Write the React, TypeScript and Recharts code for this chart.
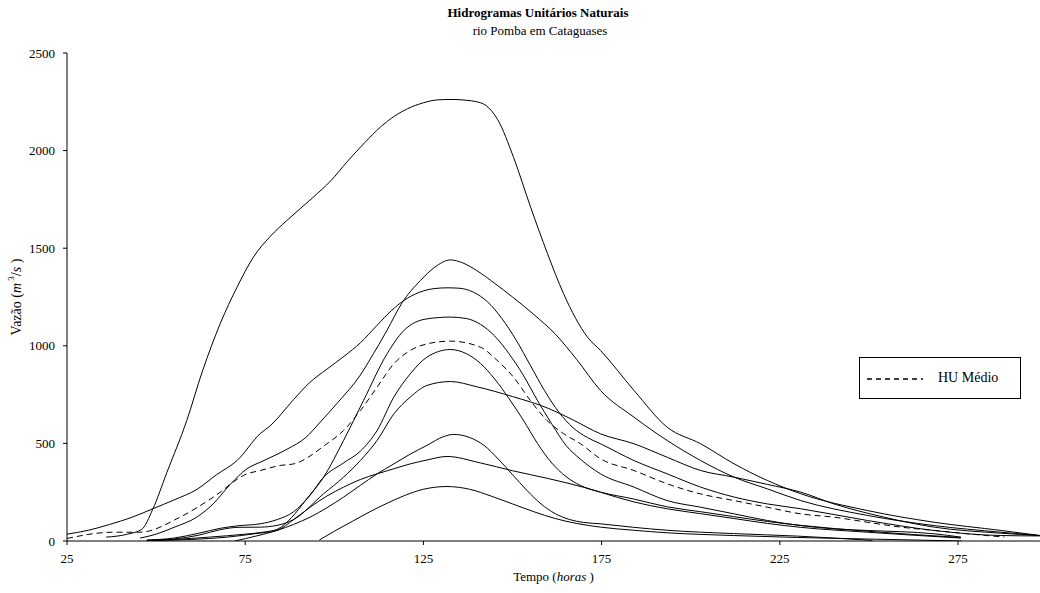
import React from 'react';
import { LineChart, Line, XAxis, YAxis, Label } from 'recharts';

// Time axis ticks (hours) and discharge ticks (m3/s)
const timeTicks = [25, 75, 125, 175, 225, 275];
const flowTicks = [0, 500, 1000, 1500, 2000, 2500];

// Each hydrograph: [time (h), discharge (m3/s)]
const huA: [number, number][] = [
  [36, 20], [42, 35], [46, 60], [49, 160], [53, 350], [58.6, 617], [63, 870], [68, 1114], [72.7, 1300],
  [77.3, 1454], [82, 1560], [86.7, 1642], [94, 1760], [99, 1845], [103.7, 1945], [108.5, 2040],
  [112.9, 2120], [117, 2178], [120.5, 2214], [125, 2245], [129, 2260], [133, 2262], [137, 2258],
  [140, 2250], [142.5, 2232], [145.8, 2160], [150.3, 1965], [155.1, 1709], [159.8, 1473],
  [164.3, 1268], [171.1, 1043], [174.7, 976], [184.1, 771], [193.4, 583], [202.8, 498],
  [212.2, 395], [221.5, 310], [230.9, 242], [249.6, 156], [268.3, 96], [287.1, 54], [298, 28],
];
const huB: [number, number][] = [
  [45.5, 15], [50, 35], [55, 70], [61.4, 122], [66, 190], [70.8, 290], [75.5, 370], [80, 410],
  [86.7, 470], [92, 530], [96.1, 610], [101, 710], [107.3, 850], [111, 960], [114.8, 1080],
  [119, 1220], [124.2, 1335], [128, 1400], [132.6, 1440], [136, 1425], [140, 1385], [145, 1320],
  [150, 1250], [156, 1160], [162, 1060], [168, 930], [174.7, 771], [184.1, 634], [193.4, 515],
  [202.8, 412], [212.2, 327], [221.5, 267], [230.9, 207], [249.6, 131], [268.3, 79], [287, 45], [298, 28],
];
const huC: [number, number][] = [
  [25, 35], [31, 55], [37, 85], [43, 120], [49.2, 166], [55, 210], [61.5, 265], [67, 340], [72.7, 412],
  [79.2, 550], [82, 590], [88.6, 725], [93, 810], [97.9, 880], [103, 950], [107.3, 1015], [112, 1105],
  [116, 1180], [119.5, 1232], [124, 1275], [128, 1293], [131.6, 1297], [135, 1295], [139, 1275],
  [143, 1225], [147, 1140], [151, 1030], [155, 900], [159, 770], [163, 660], [167, 580], [171, 530],
  [174.7, 498], [184.1, 412], [193.4, 344], [202.8, 276], [212.2, 225], [221.5, 190], [230.9, 165],
  [249.6, 105], [268.3, 54], [287, 28], [298, 26],
];
const huD: [number, number][] = [
  [47.4, 3], [55, 8], [65, 20], [75, 35], [80, 45], [84, 60], [88, 120], [92, 210], [97, 327],
  [102.6, 515], [108.2, 720], [114.8, 959], [119.5, 1078], [126, 1138], [132.6, 1147], [137, 1140],
  [141, 1110], [145, 1050], [149, 960], [153, 850], [157, 720], [161, 600], [165, 490], [169, 420],
  [174.7, 344], [184.1, 276], [193.4, 207], [202.8, 173], [212.2, 139], [221.5, 105], [230.9, 79],
  [240.2, 62], [249.6, 54], [268.3, 37], [275.8, 20],
];
const huE: [number, number][] = [
  [47.4, 5], [55, 15], [62, 40], [68, 65], [73, 78], [79.2, 88], [84, 110], [88.6, 150], [93, 230],
  [97, 327], [102.6, 400], [107.3, 460], [112, 566], [116.7, 737], [121.3, 856], [126, 942],
  [132.6, 981], [137, 960], [141, 910], [145, 830], [149, 730], [153, 620], [157, 500], [161, 400],
  [165, 330], [169, 285], [174.7, 250], [184.1, 200], [193.4, 165], [202.8, 140], [212.2, 115],
  [221.5, 90], [230.9, 70], [249.6, 45], [275.8, 15],
];
const huF: [number, number][] = [
  [47.4, 3], [55, 10], [62, 30], [68, 58], [73, 70], [79.2, 71], [83.9, 80], [88.6, 110], [97, 242],
  [102.6, 327], [107.3, 412], [112, 515], [116.7, 651], [121.3, 737], [126, 797], [132.6, 817],
  [140, 790], [150, 740], [160, 680], [167, 620], [174.7, 549], [184.1, 498], [193.4, 429],
  [202.8, 361], [212.2, 327], [221.5, 290], [230.9, 250], [240.2, 190], [254.3, 122], [268.3, 71],
  [287, 40], [298, 28],
];
const huG: [number, number][] = [
  [72, 0], [78, 25], [83.9, 54], [88.6, 85], [93.2, 122], [97.9, 170], [102.6, 225], [107.3, 285],
  [112, 344], [116.7, 395], [121.3, 445], [126, 490], [130.7, 535], [133.5, 546], [138, 530],
  [142, 490], [146, 420], [150, 340], [154, 260], [158, 190], [162, 140], [166, 110], [170, 95],
  [174.7, 88], [184, 70], [193.4, 55], [212, 38], [230, 25], [251, 3],
];
const huH: [number, number][] = [
  [47.4, 2], [60, 8], [70, 20], [78, 38], [83.9, 54], [88.6, 110], [93.2, 173], [97.9, 230],
  [102.6, 276], [107.3, 315], [112, 344], [116.7, 370], [121.3, 395], [126, 415], [131.6, 433],
  [141, 400], [150, 360], [160, 320], [170, 275], [174.7, 250], [184, 215], [193.4, 175],
  [202.8, 150], [212, 125], [221.5, 100], [230.9, 80], [249.6, 50], [275.8, 18],
];
const huI: [number, number][] = [
  [95.8, 5], [100, 50], [105, 100], [110, 150], [115, 195], [120, 235], [125, 265], [131.6, 279],
  [138, 265], [144, 230], [150, 190], [156, 150], [162, 115], [168, 90], [174.7, 71], [184, 55],
  [193.4, 42], [212, 28], [230, 18], [250, 10], [276, 0],
];
const huMedio: [number, number][] = [
  [25, 13], [37.9, 45], [45.5, 45], [56.7, 122], [66, 224], [75.5, 344], [79.2, 361], [84.8, 387],
  [88.6, 395], [97.9, 498], [102.6, 566], [107.3, 668], [112, 788], [116.7, 908], [121.3, 976],
  [126, 1010], [132.6, 1024], [141, 993], [145.7, 925], [150.3, 839], [155, 720], [159.7, 617],
  [164.4, 549], [169.1, 498], [174.7, 421], [184.1, 361], [193.4, 293], [202.8, 241], [212.2, 207],
  [221.5, 173], [230.9, 139], [240.2, 122], [249.6, 96], [259, 71], [268.3, 54], [277.7, 37], [288, 20],
];

const solidSeries = [huA, huB, huC, huD, huE, huF, huG, huH, huI];

const toRows = (pts: [number, number][]) => pts.map(([t, q]) => ({ t, q }));

const FONT = '"Liberation Serif", "Times New Roman", Times, serif';

const YLabel = (props: any) => {
  const vb = props.viewBox || { x: 0, y: 0, width: 0, height: 0 };
  const cx = vb.x + 16;
  const cy = vb.y + vb.height / 2;
  return (
    <text x={cx} y={cy} transform={`rotate(-90 ${cx} ${cy})`} textAnchor="middle" dominantBaseline="central"
      fontFamily={FONT} fontSize={14} fill="#000">
      <tspan>Vazão (</tspan>
      <tspan fontStyle="italic">m</tspan>
      <tspan fontSize={9} dy={-5}> 3</tspan>
      <tspan dy={5}>/</tspan>
      <tspan fontStyle="italic">s</tspan>
      <tspan> )</tspan>
    </text>
  );
};

const XLabel = (props: any) => {
  const vb = props.viewBox || { x: 0, y: 0, width: 0, height: 0 };
  const cx = vb.x + vb.width / 2;
  return (
    <text x={cx} y={581} textAnchor="middle" fontFamily={FONT} fontSize={13} fill="#000">
      <tspan>Tempo (</tspan>
      <tspan fontStyle="italic">horas</tspan>
      <tspan> )</tspan>
    </text>
  );
};

export default function App() {
  return (
    <div style={{ position: 'absolute', left: 0, top: 0, width: 1040, height: 593, background: '#fff' }}>
      <div style={{ position: 'absolute', left: 0, width: 1076, top: 5, textAlign: 'center', fontFamily: FONT,
        fontSize: 13, fontWeight: 'bold', color: '#000', lineHeight: '16px' }}>
        Hidrogramas Unitários Naturais
      </div>
      <div style={{ position: 'absolute', left: 0, width: 1080, top: 23, textAlign: 'center', fontFamily: FONT,
        fontSize: 13, color: '#000', lineHeight: '16px' }}>
        rio Pomba em Cataguases
      </div>
      <LineChart width={1040} height={593} margin={{ top: 53, right: 0, left: 0, bottom: 12 }}>
        <XAxis type="number" dataKey="t" domain={[25, 298]} ticks={timeTicks} allowDataOverflow
          height={40} tickSize={4} tickMargin={9} axisLine={{ stroke: '#000' }} tickLine={{ stroke: '#000' }}
          tick={{ fill: '#000', fontFamily: FONT, fontSize: 13 }}>
          <Label content={XLabel} />
        </XAxis>
        <YAxis type="number" dataKey="q" domain={[0, 2500]} ticks={flowTicks} allowDataOverflow
          width={67} tickSize={4} tickMargin={8} axisLine={{ stroke: '#000' }} tickLine={{ stroke: '#000' }}
          tick={{ fill: '#000', fontFamily: FONT, fontSize: 13 }}>
          <Label content={YLabel} />
        </YAxis>
        {solidSeries.map((s, i) => (
          <Line key={i} data={toRows(s)} dataKey="q" type="monotone" stroke="#000" strokeWidth={1}
            dot={false} activeDot={false} isAnimationActive={false} legendType="none" />
        ))}
        <Line data={toRows(huMedio)} dataKey="q" name="HU Médio" type="monotone" stroke="#000" strokeWidth={1}
          strokeDasharray="6 4" dot={false} activeDot={false} isAnimationActive={false} />
      </LineChart>
      <div style={{ position: 'absolute', left: 859, top: 357, width: 160, height: 40, border: '1px solid #000',
        background: '#fff', display: 'flex', alignItems: 'center', fontFamily: FONT, fontSize: 14, color: '#000' }}>
        <svg width={70} height={40} style={{ display: 'block' }}>
          <line x1={7} y1={21} x2={63} y2={21} stroke="#000" strokeWidth={1.5} strokeDasharray="5 4" />
        </svg>
        <span style={{ marginLeft: 8 }}>HU Médio</span>
      </div>
    </div>
  );
}
